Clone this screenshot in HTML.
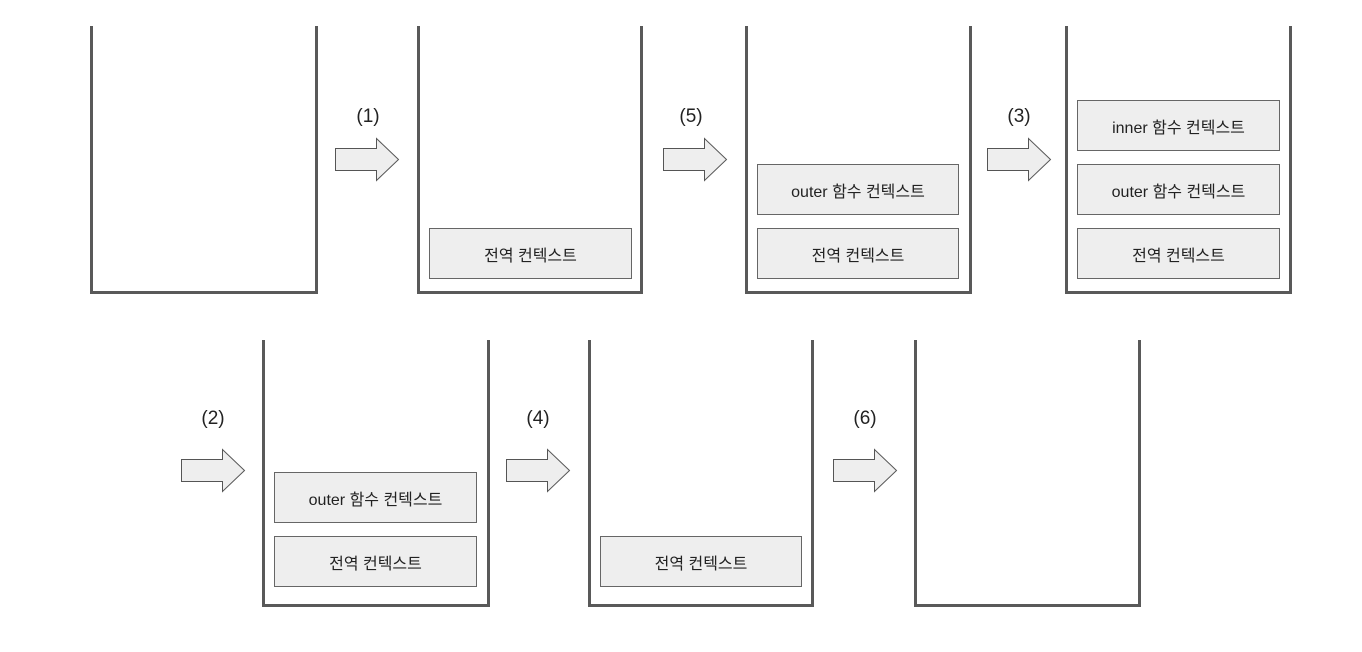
<!DOCTYPE html>
<html><head><meta charset="utf-8"><style>
body{margin:0;width:1362px;height:652px;background:#fff;position:relative;overflow:hidden;font-family:"Liberation Sans","Noto Sans CJK KR",sans-serif}
.c{position:absolute;border:3px solid #595959;border-top:none;box-sizing:border-box}
.b{position:absolute;background:#eeeeee;border:1px solid #666;box-sizing:border-box;display:flex;align-items:center;justify-content:center;font-size:16px;color:#222}
.l{position:absolute;font-size:19px;color:#222;transform:translateX(-50%)}
svg{position:absolute}
</style></head><body>
<div class="c" style="left:90px;top:26px;width:228px;height:268px"></div>
<div class="c" style="left:417px;top:26px;width:226px;height:268px"></div>
<div class="c" style="left:745px;top:26px;width:227px;height:268px"></div>
<div class="c" style="left:1065px;top:26px;width:227px;height:268px"></div>
<div class="c" style="left:262px;top:340px;width:228px;height:267px"></div>
<div class="c" style="left:588px;top:340px;width:226px;height:267px"></div>
<div class="c" style="left:914px;top:340px;width:227px;height:267px"></div>

<div class="b" style="left:429px;top:228px;width:203px;height:51px">전역 컨텍스트</div>
<div class="b" style="left:757px;top:164px;width:202px;height:51px">outer 함수 컨텍스트</div>
<div class="b" style="left:757px;top:228px;width:202px;height:51px">전역 컨텍스트</div>
<div class="b" style="left:1077px;top:100px;width:203px;height:51px">inner 함수 컨텍스트</div>
<div class="b" style="left:1077px;top:164px;width:203px;height:51px">outer 함수 컨텍스트</div>
<div class="b" style="left:1077px;top:228px;width:203px;height:51px">전역 컨텍스트</div>
<div class="b" style="left:274px;top:472px;width:203px;height:51px">outer 함수 컨텍스트</div>
<div class="b" style="left:274px;top:536px;width:203px;height:51px">전역 컨텍스트</div>
<div class="b" style="left:600px;top:536px;width:202px;height:51px">전역 컨텍스트</div>

<div class="l" style="left:368px;top:106px">(1)</div>
<div class="l" style="left:691px;top:106px">(5)</div>
<div class="l" style="left:1019px;top:106px">(3)</div>
<div class="l" style="left:213px;top:408px">(2)</div>
<div class="l" style="left:538px;top:408px">(4)</div>
<div class="l" style="left:865px;top:408px">(6)</div>

<svg width="1362" height="652" style="left:0;top:0">
<g fill="#eeeeee" stroke="#555" stroke-width="1">
<polygon points="335.5,148.5 376.5,148.5 376.5,138.5 398.5,159.5 376.5,180.5 376.5,170.5 335.5,170.5"/>
<polygon points="663.5,148.5 704.5,148.5 704.5,138.5 726.5,159.5 704.5,180.5 704.5,170.5 663.5,170.5"/>
<polygon points="987.5,148.5 1028.5,148.5 1028.5,138.5 1050.5,159.5 1028.5,180.5 1028.5,170.5 987.5,170.5"/>
<polygon points="181.5,459.5 222.5,459.5 222.5,449.5 244.5,470.5 222.5,491.5 222.5,481.5 181.5,481.5"/>
<polygon points="506.5,459.5 547.5,459.5 547.5,449.5 569.5,470.5 547.5,491.5 547.5,481.5 506.5,481.5"/>
<polygon points="833.5,459.5 874.5,459.5 874.5,449.5 896.5,470.5 874.5,491.5 874.5,481.5 833.5,481.5"/>
</g></svg>
</body></html>
